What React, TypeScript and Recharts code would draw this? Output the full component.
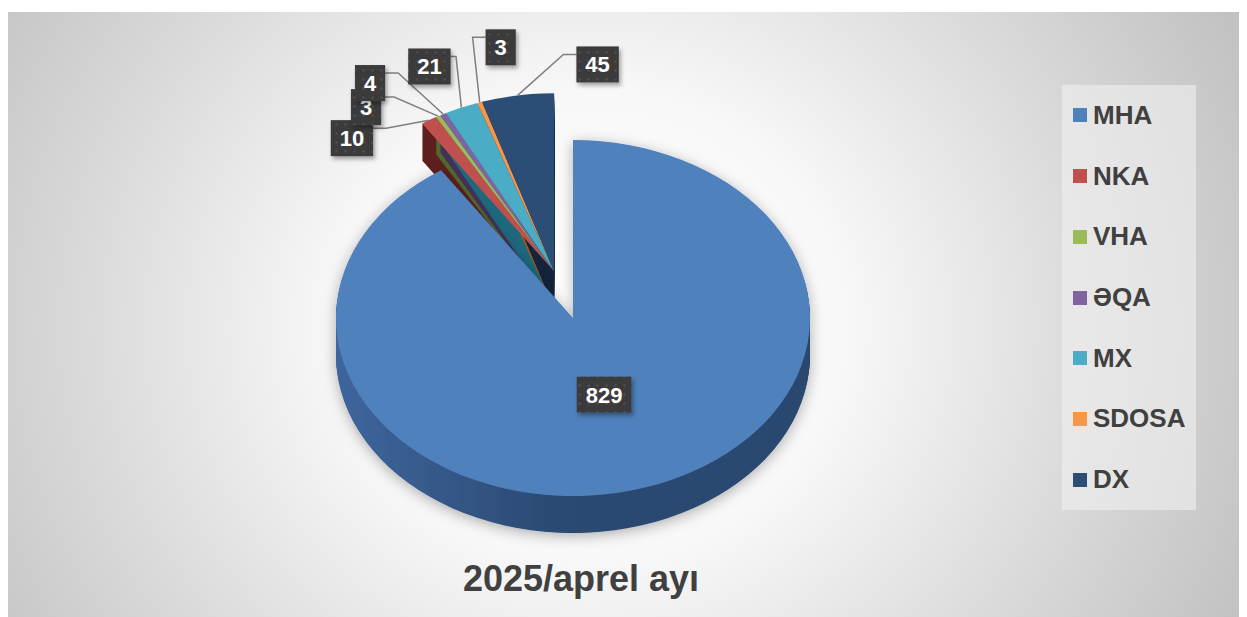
import React from 'react';
import { PieChart, Pie, Cell, Legend, Tooltip } from 'recharts';

const categories = ['MHA', 'NKA', 'VHA', 'ƏQA', 'MX', 'SDOSA', 'DX'];
const counts = [829, 10, 3, 4, 21, 3, 45];
const chartTitle = '2025/aprel ayı';

const topColors = ['#4f81bd', '#c0504d', '#9bbb59', '#8064a2', '#4bacc6', '#f79646', '#2c4d75'];
const sideColors = ['url(#wallBlue)', '#5e2120', '#55692c', '#45325c', '#1f6a7e', '#a4591c', '#15263c'];
// where each label box sits relative to the point it points at
const labelShift = [[0, 0], [-77, 18], [-72, -9], [-73, -31], [-32, -41], [21, -55], [80, -31]];

const data = categories.map((name, i) => ({ name, value: counts[i] }));
const total = counts.reduce((a, b) => a + b, 0);
const biggest = Math.max(...counts);

const FONT = '"Liberation Sans", Arial, sans-serif';
const SQUASH = 0.751; // tilt of the pie
const DEPTH = 37;
const EXPLODE = 65;

const rad = (d: number) => (d * Math.PI) / 180;

// the small slices are pulled out together, along the middle of their group
let acc = 0, sumA = 0, sumW = 0;
counts.forEach((v) => {
  const mid = 90 - (360 * (acc + v / 2)) / total;
  if (v < biggest) { sumA += mid * v; sumW += v; }
  acc += v;
});
const groupAngle = sumA / sumW;
const EX = EXPLODE * Math.cos(rad(groupAngle));
const EY = -EXPLODE * SQUASH * Math.sin(rad(groupAngle));

const pt = (cx: number, cy: number, r: number, deg: number) =>
  [cx + r * Math.cos(rad(deg)), cy - r * SQUASH * Math.sin(rad(deg))];

const wedge = (cx: number, cy: number, r: number, a0: number, a1: number) => {
  const [x0, y0] = pt(cx, cy, r, a0);
  const [x1, y1] = pt(cx, cy, r, a1);
  const large = Math.abs(a0 - a1) > 180 ? 1 : 0;
  const sweep = a0 > a1 ? 1 : 0;
  return `M${cx},${cy} L${x0},${y0} A${r},${r * SQUASH} 0 ${large} ${sweep} ${x1},${y1} Z`;
};

// part: 'walls' | 'tops' for the pulled-out slices, 'big' for the main slice
const makeSlice = (part: string) => (props: any) => {
  const { cx, cy, outerRadius, startAngle, endAngle, fill } = props;
  const name = props.payload?.name ?? props.name;
  const value = props.payload?.value ?? props.value;
  const idx = categories.indexOf(name);
  const isBig = value >= biggest;
  if (isBig !== (part === 'big')) return <g />;
  const ox = cx + (isBig ? 0 : EX);
  const oy = cy + (isBig ? 0 : EY);
  const d = wedge(ox, oy, outerRadius, startAngle, endAngle);
  const walls = [];
  if (part !== 'tops') {
    for (let k = DEPTH; k >= 1; k--) {
      walls.push(<path key={k} d={d} transform={`translate(0,${k})`} fill={sideColors[idx]} />);
    }
  }
  return (
    <g filter={isBig ? 'url(#pieShadow)' : undefined}>
      {walls}
      {part !== 'walls' && <path d={d} fill={fill} />}
    </g>
  );
};

const wallSlice = makeSlice('walls');
const topSlice = makeSlice('tops');
const bigSlice = makeSlice('big');

const renderLabel = (p: any) => {
  const { cx, cy, midAngle, outerRadius, value, index } = p;
  const out = value < biggest;
  const [ax, ay] = out
    ? pt(cx + EX, cy + EY, outerRadius, midAngle)
    : pt(cx, cy, outerRadius * 0.45, midAngle);
  const [sx, sy] = labelShift[index] || [0, 0];
  const bx = ax + sx, by = ay + sy;
  const txt = String(value);
  const w = txt.length * 12.2 + 18, h = 36;
  const L = bx - w / 2, T = by - h / 2, Rt = bx + w / 2;
  let line = null;
  if (out) {
    const y0 = T + 8;
    let pts = '';
    if (ax < L) {
      pts = `${L},${y0} ${L - 13},${y0} ${ax},${ay}`;
    } else {
      const stub = Math.min(13, (ax - Rt) / 2);
      pts = `${Rt},${y0} ${Rt + stub},${y0} ${ax},${ay}`;
    }
    line = <polyline points={pts} fill="none" stroke="#7f7f7f" strokeWidth={1.5} />;
  }
  return (
    <g key={`lbl-${index}`}>
      {line}
      <rect x={L} y={T} width={w} height={h} fill="url(#labelDots)" filter="url(#boxShadow)" />
      <text x={bx} y={by + 8} textAnchor="middle" fill="#ffffff" fontFamily={FONT} fontWeight="bold" fontSize={22}>
        {txt}
      </text>
    </g>
  );
};

const LegendBox = () => (
  <div style={{ width: 134, height: 425, background: 'rgba(240,240,240,0.6)', display: 'flex', flexDirection: 'column' }}>
    {categories.map((c, i) => (
      <div key={c} style={{ flex: 1, display: 'flex', alignItems: 'center', paddingLeft: 11 }}>
        <span style={{ display: 'inline-block', width: 14, height: 14, background: topColors[i], marginRight: 6 }} />
        <span style={{ fontFamily: FONT, fontWeight: 'bold', fontSize: 26, color: '#404040' }}>{c}</span>
      </div>
    ))}
  </div>
);

const pieBase = {
  data,
  dataKey: 'value',
  nameKey: 'name',
  cx: 565,
  cy: 306,
  outerRadius: 237,
  startAngle: 90,
  endAngle: -270,
  stroke: 'none',
  isAnimationActive: false,
};

export default function App() {
  return (
    <div style={{ paddingTop: 4 }}>
      <style>{'html,body{overflow:hidden}'}</style>
      <div
        style={{
          width: 1239,
          height: 605,
          position: 'relative',
          background:
            'radial-gradient(ellipse 58% 110% at 47% 52%, #ffffff 0%, #f8f8f8 35%, #dadada 70%, #c2c2c2 100%)',
        }}
      >
        <PieChart width={1239} height={605} margin={{ top: 0, right: 0, bottom: 0, left: 0 }}>
          <defs>
            <linearGradient id="wallBlue" x1="0" y1="0" x2="1" y2="0">
              <stop offset="0%" stopColor="#3e669d" />
              <stop offset="45%" stopColor="#2b4a73" />
              <stop offset="100%" stopColor="#2a4770" />
            </linearGradient>
            <pattern id="labelDots" width="9" height="9" patternUnits="userSpaceOnUse">
              <rect width="9" height="9" fill="#3a3a3a" />
              <circle cx="4.5" cy="4.5" r="1.3" fill="#4f4f4f" />
            </pattern>
            <filter id="pieShadow" x="-20%" y="-20%" width="140%" height="140%">
              <feDropShadow dx="0" dy="3" stdDeviation="7" floodColor="#000" floodOpacity="0.3" />
            </filter>
            <filter id="boxShadow" x="-30%" y="-30%" width="160%" height="160%">
              <feDropShadow dx="2" dy="3" stdDeviation="2" floodColor="#000" floodOpacity="0.35" />
            </filter>
          </defs>
          <Pie {...pieBase} legendType="none" shape={wallSlice} activeShape={wallSlice} inactiveShape={wallSlice}>
            {data.map((d, i) => <Cell key={d.name} fill={topColors[i]} />)}
          </Pie>
          <Pie {...pieBase} legendType="none" shape={topSlice} activeShape={topSlice} inactiveShape={topSlice}>
            {data.map((d, i) => <Cell key={d.name} fill={topColors[i]} />)}
          </Pie>
          <Pie
            {...pieBase}
            legendType="square"
            shape={bigSlice}
            activeShape={bigSlice}
            inactiveShape={bigSlice}
            label={renderLabel}
            labelLine={false}
          >
            {data.map((d, i) => <Cell key={d.name} fill={topColors[i]} />)}
          </Pie>
          <Tooltip defaultIndex={0} content={() => null} cursor={false} />
          <Legend
            layout="vertical"
            align="right"
            verticalAlign="top"
            content={LegendBox}
            wrapperStyle={{ left: 1054, top: 73, width: 134, height: 425 }}
          />
          <text x={573} y={579} textAnchor="middle" fill="#404040" fontFamily={FONT} fontWeight="bold" fontSize={36}>
            {chartTitle}
          </text>
        </PieChart>
      </div>
    </div>
  );
}
